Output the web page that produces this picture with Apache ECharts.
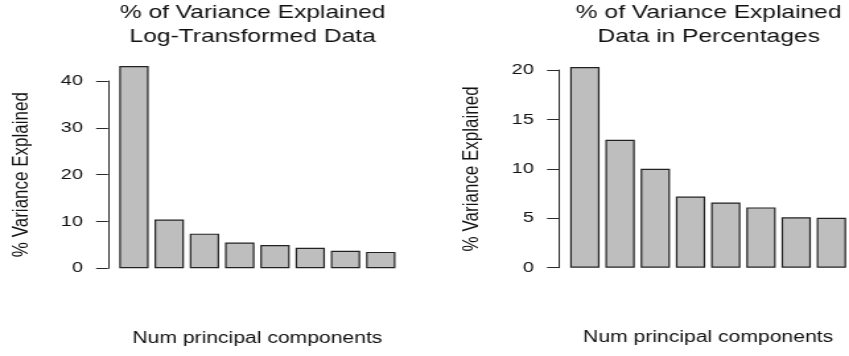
<!DOCTYPE html>
<html>
<head>
<meta charset="utf-8">
<script src="https://cdn.jsdelivr.net/npm/echarts@6/dist/echarts.min.js"></script>
<style>
  html, body { margin: 0; padding: 0; background: #fff; overflow: hidden; }
  /* The plot is laid out at a narrower width and widened horizontally */
  #main { width: 643px; height: 356px; transform: scaleX(1.3204); transform-origin: 0 0; }
</style>
</head>
<body>
<div id="main"></div>
<script>
// Principal components (one bar per component)
const components = ['PC1', 'PC2', 'PC3', 'PC4', 'PC5', 'PC6', 'PC7', 'PC8'];

// % of variance explained, log-transformed data
const logVariance = [43.2, 10.4, 7.4, 5.5, 4.95, 4.4, 3.75, 3.5];

// % of variance explained, data in percentages
const pctVariance = [20.3, 12.95, 10.0, 7.2, 6.6, 6.1, 5.1, 5.05];

// Y tick layout per panel
const logTicks = { min: 0, max: 40, step: 10 };
const pctTicks = { min: 0, max: 20, step: 5 };

const titles = [
  '% of Variance Explained\nLog-Transformed Data',
  '% of Variance Explained\nData in Percentages'
];
const yName = '% Variance Explained';
const xName = 'Num principal components';

const FONT = 'Liberation Sans, Arial, Helvetica, sans-serif';
const INK = '#111';

function yAxisFor(idx, ticks) {
  return {
    type: 'value',
    gridIndex: idx,
    min: ticks.min,
    max: ticks.max,
    interval: ticks.step,
    offset: 6.3,
    name: yName,
    nameLocation: 'middle',
    nameGap: 57,
    nameTextStyle: { fontFamily: FONT, fontSize: 17, color: INK },
    axisLine: { show: true, lineStyle: { color: '#2a2a2a', width: 1 } },
    axisTick: { show: true, length: 9, lineStyle: { color: '#2a2a2a', width: 1 } },
    axisLabel: { margin: 19, fontFamily: FONT, fontSize: 15, color: INK },
    splitLine: { show: false }
  };
}

function xAxisFor(idx) {
  return {
    type: 'category',
    gridIndex: idx,
    data: components,
    name: xName,
    nameLocation: 'middle',
    nameGap: 62,
    nameTextStyle: { fontFamily: FONT, fontSize: 16, color: INK },
    axisLine: { show: false },
    axisTick: { show: false },
    axisLabel: { show: false },
    splitLine: { show: false }
  };
}

function barSeries(idx, values) {
  return {
    type: 'bar',
    xAxisIndex: idx,
    yAxisIndex: idx,
    data: values,
    clip: false,
    barCategoryGap: '16.7%',
    itemStyle: { color: '#bebebe', borderColor: '#222', borderWidth: 1.2 },
    emphasis: { disabled: true },
    silent: true
  };
}

const chart = echarts.init(document.getElementById('main'), null, { renderer: 'canvas' });
chart.setOption({
  animation: false,
  backgroundColor: '#ffffff',
  title: [
    {
      text: titles[0], left: 191.3, top: 1, padding: 0, textAlign: 'center',
      textStyle: { fontFamily: FONT, fontSize: 18.6, fontWeight: 'normal', color: INK, lineHeight: 24 }
    },
    {
      text: titles[1], left: 536.7, top: 1, padding: 0, textAlign: 'center',
      textStyle: { fontFamily: FONT, fontSize: 18.6, fontWeight: 'normal', color: INK, lineHeight: 24 }
    }
  ],
  grid: [
    { left: 88.1, width: 213.6, top: 81, bottom: 87.7 },
    { left: 429.6, width: 213.6, top: 70, bottom: 88.3 }
  ],
  xAxis: [xAxisFor(0), xAxisFor(1)],
  yAxis: [yAxisFor(0, logTicks), yAxisFor(1, pctTicks)],
  series: [barSeries(0, logVariance), barSeries(1, pctVariance)]
});
</script>
</body>
</html>
